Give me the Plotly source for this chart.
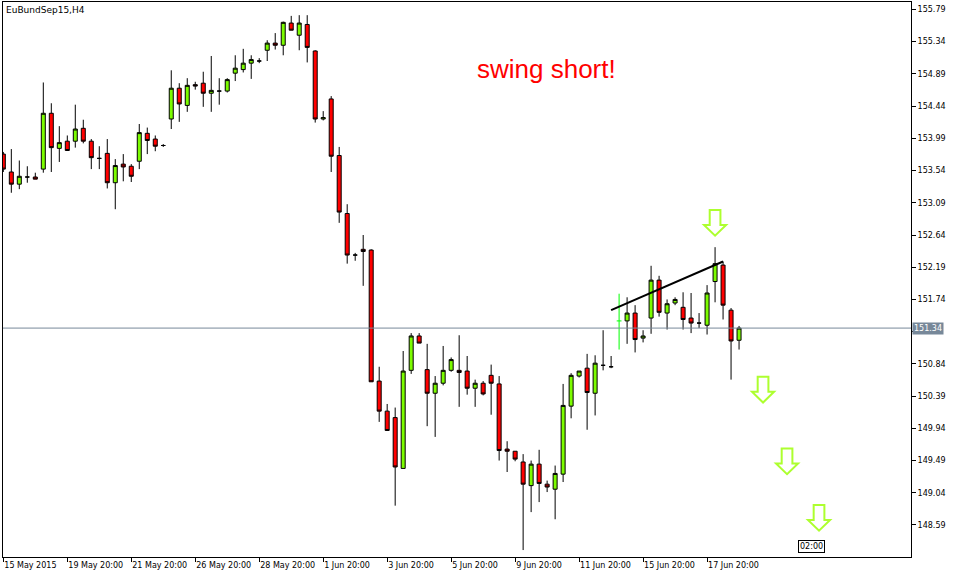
import plotly.graph_objects as go

# EuBundSep15, H4 candles
opens = [
    153.77, 153.52, 153.35, 153.45, 153.45, 153.56, 154.34, 153.85, 153.95, 153.95,
    154.13, 153.95, 153.71, 153.78, 153.37, 153.63, 153.60, 153.67, 154.06, 153.98,
    153.89, 154.26, 154.69, 154.45, 154.74, 154.76, 154.62, 154.65, 154.65, 154.90,
    154.95, 155.04, 155.07, 155.22, 155.32, 155.29, 155.60, 155.43, 155.58, 155.21,
    154.26, 154.54, 153.75, 152.94, 152.36, 152.44, 152.43, 150.60, 150.18, 150.09,
    149.38, 150.75, 151.23, 150.76, 150.43, 150.57, 150.75, 150.75, 150.74, 150.50,
    150.57, 150.68, 150.56, 149.65, 149.62, 149.47, 149.14, 149.44, 149.16, 149.09,
    149.30, 150.25, 150.67, 150.78, 150.43, 150.82, 150.80, 151.44, 151.44, 151.55,
    151.20, 151.48, 152.01, 151.55, 151.69, 151.63, 151.48, 151.41, 151.38, 151.99,
    152.22, 151.59, 151.17,
]
highs = [
    153.80, 153.84, 153.68, 153.60, 153.51, 154.77, 154.48, 154.16, 154.03, 154.46,
    154.25, 153.98, 153.88, 153.98, 153.70, 153.77, 153.63, 154.19, 154.14, 154.03,
    153.91, 154.94, 154.76, 154.83, 154.78, 154.92, 155.14, 154.83, 154.83, 155.15,
    155.24, 155.15, 155.11, 155.36, 155.46, 155.62, 155.70, 155.71, 155.71, 155.22,
    154.37, 154.58, 153.87, 153.07, 152.39, 152.64, 152.44, 150.80, 150.28, 150.23,
    151.02, 151.27, 151.27, 151.12, 150.67, 151.09, 150.93, 151.24, 150.95, 150.62,
    150.60, 150.83, 150.67, 149.76, 149.62, 149.58, 149.49, 149.64, 149.21, 149.42,
    150.56, 150.71, 150.74, 150.98, 150.96, 151.31, 150.95, 151.82, 151.77, 151.66,
    151.31, 152.21, 152.07, 151.74, 151.77, 151.84, 151.83, 151.55, 151.94, 152.47,
    152.27, 151.62, 151.37,
]
lows = [
    153.52, 153.23, 153.28, 153.37, 153.42, 153.51, 153.52, 153.66, 153.82, 153.86,
    153.92, 153.56, 153.56, 153.29, 153.00, 153.39, 153.38, 153.56, 153.77, 153.81,
    153.87, 154.12, 154.22, 154.36, 154.67, 154.43, 154.36, 154.46, 154.63, 154.79,
    154.91, 154.82, 155.04, 155.07, 155.23, 155.15, 155.50, 155.22, 155.05, 154.21,
    154.24, 153.52, 152.81, 152.24, 152.28, 151.93, 150.59, 150.03, 149.91, 148.86,
    149.38, 150.70, 151.13, 149.97, 149.82, 150.54, 150.73, 150.24, 150.41, 150.24,
    150.40, 150.13, 149.49, 149.33, 149.48, 148.24, 148.77, 148.91, 149.05, 148.67,
    149.19, 150.08, 150.65, 149.92, 150.12, 150.75, 150.78, 151.04, 151.12, 151.00,
    151.14, 151.26, 151.50, 151.32, 151.66, 151.32, 151.27, 151.34, 151.25, 151.70,
    151.46, 150.62, 151.04,
]
closes = [
    153.56, 153.35, 153.46, 153.45, 153.42, 154.34, 153.86, 153.93, 153.82, 154.12,
    153.95, 153.72, 153.71, 153.37, 153.61, 153.59, 153.46, 154.07, 153.96, 153.88,
    153.89, 154.69, 154.47, 154.73, 154.72, 154.62, 154.66, 154.65, 154.81, 154.97,
    155.04, 155.09, 155.07, 155.32, 155.29, 155.61, 155.50, 155.60, 155.26, 154.26,
    154.28, 153.74, 152.96, 152.36, 152.36, 152.41, 150.59, 150.18, 149.91, 149.40,
    150.74, 151.23, 151.13, 150.43, 150.57, 150.75, 150.90, 150.72, 150.50, 150.57,
    150.42, 150.57, 149.63, 149.62, 149.51, 149.16, 149.44, 149.17, 149.12, 149.31,
    150.26, 150.68, 150.74, 150.44, 150.85, 150.82, 150.80, 151.44, 151.55, 151.18,
    151.23, 152.01, 151.56, 151.68, 151.74, 151.46, 151.41, 151.41, 151.83, 152.24,
    151.66, 151.16, 151.34,
]

# bar drawn as a bright green OHLC bar instead of a candle
signal_bar = 77

tick_bars = [0, 8, 16, 24, 32, 40, 48, 56, 64, 72, 80, 88]
tick_labels = [
    "15 May 2015", "19 May 20:00", "21 May 20:00", "26 May 20:00",
    "28 May 20:00", "1 Jun 20:00", "3 Jun 20:00", "5 Jun 20:00",
    "9 Jun 20:00", "11 Jun 20:00", "15 Jun 20:00", "17 Jun 20:00",
]
price_ticks = [
    148.59, 149.04, 149.49, 149.94, 150.39, 150.84, 151.29, 151.74, 152.19,
    152.64, 153.09, 153.54, 153.99, 154.44, 154.89, 155.34, 155.79,
]

trend_x = [76, 90]
trend_y = [151.59, 152.27]

arrow_x = [89, 95, 98, 102]
arrow_tip = [152.63, 150.30, 149.30, 148.51]

last_price = 151.34
last_time = "02:00"

BULL = "#7CFC00"
BEAR = "#FF0000"
FONT = "DejaVu Sans"

idx = [i for i in range(len(opens)) if i != signal_bar]

# the 151.29 label sits under the current price box
price_text = ["" if abs(p - last_price) < 0.1 else f"{p:.2f}" for p in price_ticks]

fig = go.Figure()
fig.add_trace(
    go.Candlestick(
        x=idx,
        open=[opens[i] for i in idx],
        high=[highs[i] for i in idx],
        low=[lows[i] for i in idx],
        close=[closes[i] for i in idx],
        increasing=dict(fillcolor=BULL, line=dict(color="black", width=1)),
        decreasing=dict(fillcolor=BEAR, line=dict(color="black", width=1)),
        whiskerwidth=0,
        hoverinfo="skip",
    )
)
fig.add_trace(
    go.Ohlc(
        x=[signal_bar],
        open=[opens[signal_bar]],
        high=[highs[signal_bar]],
        low=[lows[signal_bar]],
        close=[closes[signal_bar]],
        increasing_line_color="#00FF00",
        decreasing_line_color="#00FF00",
        line_width=1,
        tickwidth=0.3,
        hoverinfo="skip",
    )
)
fig.add_trace(
    go.Scatter(
        x=trend_x, y=trend_y, mode="lines",
        line=dict(color="black", width=2), hoverinfo="skip",
    )
)

# current price line
fig.add_hline(y=last_price, line=dict(color="#778899", width=1))

# hollow down arrows
for ax, tip in zip(arrow_x, arrow_tip):
    hs, hh, head, total = 0.67, 1.38, 0.15, 0.36
    path = (
        f"M {ax - hs} {tip + total} L {ax + hs} {tip + total} "
        f"L {ax + hs} {tip + head} L {ax + hh} {tip + head} L {ax} {tip} "
        f"L {ax - hh} {tip + head} L {ax - hs} {tip + head} Z"
    )
    fig.add_shape(type="path", path=path, xref="x", yref="y",
                  line=dict(color="#ADFF2F", width=2), fillcolor="white")

fig.add_annotation(
    text="EuBundSep15,H4", xref="paper", yref="paper", x=0, y=1,
    xanchor="left", yanchor="top", xshift=1, yshift=-1, showarrow=False,
    font=dict(family=FONT, size=9, color="black"),
)
fig.add_annotation(
    text="swing short!", xref="paper", yref="paper", x=0.5986, y=0.879,
    xanchor="center", yanchor="middle", showarrow=False,
    font=dict(family="Liberation Sans, Arial", size=26, color="red"),
)
fig.add_annotation(
    text=f"{last_price:.2f}", xref="paper", yref="y", x=1, y=last_price,
    xanchor="left", yanchor="middle", xshift=1, showarrow=False,
    bgcolor="#778899", borderpad=1,
    font=dict(family=FONT, size=8, color="white"),
)
fig.add_annotation(
    text=last_time, xref="x", yref="paper", x=101, y=0,
    xanchor="center", yanchor="bottom", yshift=4, showarrow=False,
    bgcolor="white", bordercolor="black", borderwidth=1, borderpad=1,
    font=dict(family=FONT, size=8, color="black"),
)

fig.update_layout(
    width=958,
    height=578,
    margin=dict(l=3, r=47, t=2, b=21),
    paper_bgcolor="white",
    plot_bgcolor="white",
    showlegend=False,
    boxgap=0.5,
    boxgroupgap=0,
    xaxis=dict(
        type="linear",
        range=[-0.04, 113.5],
        rangeslider=dict(visible=False),
        tickvals=tick_bars,
        ticktext=tick_labels,
        ticks="outside",
        ticklen=4,
        tickcolor="black",
        ticklabelposition="outside right",
        showline=True,
        linecolor="black",
        linewidth=1,
        mirror=True,
        showgrid=False,
        zeroline=False,
        tickfont=dict(family=FONT, size=8, color="black"),
    ),
    yaxis=dict(
        side="right",
        range=[148.143, 155.894],
        tickvals=price_ticks,
        ticktext=price_text,
        ticks="outside",
        ticklen=4,
        tickcolor="black",
        showline=True,
        linecolor="black",
        linewidth=1,
        mirror=True,
        showgrid=False,
        zeroline=False,
        tickfont=dict(family=FONT, size=8, color="black"),
    ),
)

fig.write_html(
    "out.html",
    config={"displayModeBar": False},
    post_script="document.body.style.margin = '0';",
)
